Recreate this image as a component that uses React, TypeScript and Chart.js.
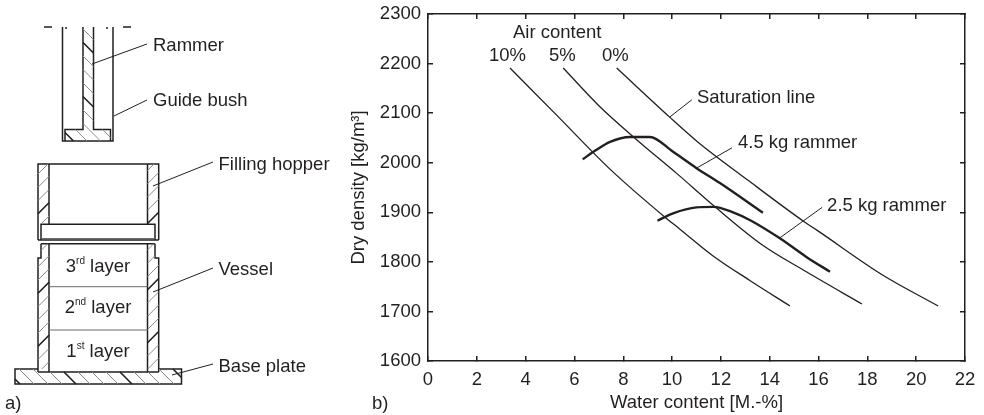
import React, { useEffect, useRef } from "react";
import { Chart, registerables } from "chart.js";

Chart.register(...registerables);

const FONT = '"Liberation Sans", Arial, sans-serif';
const INK = "#231f20";
const TEXT_SIZE = 18.5;

/* ---------- b) compaction chart values ---------- */
const airContent10X = [3.36, 5.27, 7.5, 9.71, 10.32, 11.68, 13.2, 14.83];
const airContent10Y = [2191, 2096, 1985, 1890, 1866, 1812, 1762, 1711];
const airContent5X = [5.54, 7.0, 8.56, 10.2, 11.76, 13.7, 15.5, 17.78];
const airContent5Y = [2191, 2115, 2046, 1978, 1911, 1834, 1780, 1715];
const airContent0X = [7.73, 9.9, 11.05, 13.1, 15.44, 15.93, 18.64, 20.9];
const airContent0Y = [2191, 2092, 2042, 1965, 1880, 1864, 1773, 1711];
const rammer45X = [6.34, 6.84, 7.46, 8.27, 9.09, 10.04, 11.0, 11.96, 13.72];
const rammer45Y = [2007, 2024, 2042, 2052, 2052, 2022, 1989, 1959, 1899];
const rammer25X = [9.4, 10.04, 11.0, 11.68, 12.5, 13.2, 14.4, 15.5, 16.47];
const rammer25Y = [1883, 1898, 1910, 1911, 1900, 1884, 1848, 1810, 1780];
const saturationLeaderX = [9.9, 10.81];
const saturationLeaderY = [2092, 2127];
const leader45X = [11.0, 12.45];
const leader45Y = [1989, 2030];
const leader25X = [14.4, 16.15];
const leader25Y = [1848, 1910];
const xTickMax = 22;
const yTickMin = 1600;
const yTickMax = 2300;

const chartLabels: [string, number, number][] = [
  ["Air content", 3.48, 2262],
  ["10%", 2.5, 2215],
  ["5%", 4.96, 2215],
  ["0%", 7.13, 2215],
  ["Saturation line", 11.02, 2130],
  ["4.5 kg rammer", 12.7, 2040],
  ["2.5 kg rammer", 16.35, 1913],
];

/* ---------- a) apparatus schematic, in its own 340 x 415 drawing units ---------- */
type P = [number, number];
const outlines: P[][] = [
  [[62.5, 27], [62.5, 141], [113, 141], [113, 27]],
  [[83, 27], [83, 129.5], [65, 129.5], [65, 141]],
  [[93.5, 27], [93.5, 129.5], [110.5, 129.5], [110.5, 141]],
  [[38, 240], [38, 164], [158.7, 164], [158.7, 240]],
  [[49, 164], [49, 224.3]],
  [[147.5, 164], [147.5, 224.3]],
  [[38, 240], [158.7, 240]],
  [[41, 240], [41, 224.3], [155, 224.3], [155, 240]],
  [[41, 243.7], [155, 243.7]],
  [[41, 243.7], [41, 258], [38, 258], [38, 372]],
  [[155, 243.7], [155, 258], [158.7, 258], [158.7, 372]],
  [[49, 243.7], [49, 372]],
  [[147.5, 243.7], [147.5, 372]],
  [[38, 369], [15, 369], [15, 384], [181.5, 384], [181.5, 369], [158.7, 369]],
  [[38, 372], [158.7, 372]],
];
const dashes: P[][] = [
  [[44, 27], [52, 27]],
  [[66, 27], [66, 29]],
  [[107, 27], [107, 29]],
  [[123, 27], [131, 27]],
];
const layerLines: P[][] = [
  [[49, 286.7], [147.5, 286.7]],
  [[49, 330], [147.5, 330]],
  [[41, 238.5], [155, 238.5]],
];
const leaders: P[][] = [
  [[92, 64], [147, 44]],
  [[114, 116], [147, 100]],
  [[153, 186], [213, 162]],
  [[153, 292], [213, 268]],
  [[172, 375], [213, 364]],
];
/* x0, y0, x1, y1, slope (+1 = "\", -1 = "/"), spacing, indices of black strokes */
const hatchAreas: [number, number, number, number, number, number, number[]][] = [
  [83, 27, 93.5, 129.5, 1, 13.5, [-3, 1]],
  [65, 129.5, 110.5, 141, 1, 13.5, [5]],
  [38, 164, 49, 224, -1, 13.25, [19]],
  [147.5, 164, 158.7, 224, -1, 13.25, [28]],
  [41, 243.7, 49, 258, -1, 13.25, []],
  [147.5, 243.7, 155, 258, -1, 13.25, []],
  [38, 258, 49, 369, -1, 13.25, [25, 29]],
  [147.5, 258, 158.7, 369, -1, 13.25, [33, 37]],
  [15, 372, 181.5, 384, 1, 14, [14, 18, 22, 26]],
  [15, 369, 38, 372, 1, 14, [26]],
  [158.7, 369, 181.5, 372, 1, 14, [14]],
];
const plainLabels: [string, number, number][] = [
  ["Rammer", 153, 46],
  ["Guide bush", 153, 101],
  ["Filling hopper", 218.5, 165],
  ["Vessel", 218.5, 270],
  ["Base plate", 218.5, 367],
  ["a)", 5, 404],
];
const layerLabels: [string, string, number][] = [
  ["3", "rd", 267],
  ["2", "nd", 308],
  ["1", "st", 352],
];
const layerCenterX = 98;

const join = (list: P[][]) => {
  const out: { x: number; y: number }[] = [];
  list.forEach((line) => {
    line.forEach(([x, y]) => out.push({ x, y }));
    out.push({ x: NaN, y: NaN });
  });
  return out;
};

const hatchSegments = (wantBlack: boolean) => {
  const res: P[][] = [];
  hatchAreas.forEach(([x0, y0, x1, y1, slope, step, black]) => {
    const start = slope > 0 ? y0 - x1 : y0 + x0;
    const end = slope > 0 ? y1 - x0 : y1 + x1;
    for (let k = Math.ceil(start / step); k * step <= end; k++) {
      const c = k * step;
      const pts: P[] = [];
      const add = (x: number, y: number) => {
        if (x >= x0 - 0.01 && x <= x1 + 0.01 && y >= y0 - 0.01 && y <= y1 + 0.01) pts.push([x, y]);
      };
      const yAt = (x: number) => (slope > 0 ? c + x : c - x);
      const xAt = (y: number) => (slope > 0 ? y - c : c - y);
      add(x0, yAt(x0));
      add(x1, yAt(x1));
      add(xAt(y0), y0);
      add(xAt(y1), y1);
      if (pts.length >= 2 && black.includes(k) === wantBlack) res.push([pts[0], pts[pts.length - 1]]);
    }
  });
  return res;
};

const toPoints = (xs: number[], ys: number[]) => xs.map((x, i) => ({ x, y: ys[i] }));

const series = (xs: number[], ys: number[], width: number, smooth = true) => ({
  data: toPoints(xs, ys),
  showLine: true,
  borderColor: INK,
  borderWidth: width,
  pointRadius: 0,
  cubicInterpolationMode: smooth ? "monotone" : "default",
  tension: 0,
});

const outlineSet = (list: P[][], color: string, width: number) => ({
  data: join(list),
  showLine: true,
  spanGaps: false,
  borderColor: color,
  borderWidth: width,
  pointRadius: 0,
  tension: 0,
  clip: false,
});

export default function App() {
  const leftRef = useRef<HTMLCanvasElement>(null);
  const rightRef = useRef<HTMLCanvasElement>(null);

  useEffect(() => {
    const left = new Chart(leftRef.current!, {
      type: "scatter",
      data: {
        datasets: [
          outlineSet(hatchSegments(false), "#8c8c8c", 1),
          outlineSet(hatchSegments(true), INK, 1.6),
          outlineSet(layerLines, "#6b6b6b", 1),
          outlineSet(outlines, INK, 1.5),
          outlineSet(dashes, INK, 1.5),
          outlineSet(leaders, INK, 1),
        ] as any,
      },
      options: {
        animation: false,
        responsive: false,
        devicePixelRatio: 1,
        layout: { padding: 0 },
        plugins: { legend: { display: false }, tooltip: { enabled: false } },
        scales: {
          x: { type: "linear", display: false, min: 0, max: 340 },
          y: { type: "linear", display: false, min: 0, max: 415, reverse: true },
        },
      },
      plugins: [
        {
          id: "schematicText",
          afterDraw(c: any) {
            const { ctx, scales } = c;
            ctx.save();
            ctx.fillStyle = INK;
            ctx.textBaseline = "middle";
            ctx.textAlign = "left";
            ctx.font = `${TEXT_SIZE}px ${FONT}`;
            plainLabels.forEach(([t, x, y]) =>
              ctx.fillText(t, scales.x.getPixelForValue(x), scales.y.getPixelForValue(y))
            );
            layerLabels.forEach(([n, sup, y]) => {
              ctx.font = `${TEXT_SIZE}px ${FONT}`;
              const w1 = ctx.measureText(n).width;
              const w3 = ctx.measureText(" layer").width;
              ctx.font = `10px ${FONT}`;
              const w2 = ctx.measureText(sup).width;
              let px = scales.x.getPixelForValue(layerCenterX) - (w1 + w2 + w3) / 2;
              const py = scales.y.getPixelForValue(y);
              ctx.font = `${TEXT_SIZE}px ${FONT}`;
              ctx.fillText(n, px, py);
              px += w1;
              ctx.font = `10px ${FONT}`;
              ctx.fillText(sup, px, py - 6);
              px += w2;
              ctx.font = `${TEXT_SIZE}px ${FONT}`;
              ctx.fillText(" layer", px, py);
            });
            ctx.restore();
          },
        },
      ],
    } as any);

    const hiddenTicks = { display: false };
    const innerGrid = { drawOnChartArea: false, tickLength: -5, color: INK, lineWidth: 1.5 };
    const edge = { display: true, color: INK, width: 1.5 };
    const noOverhang = (s: any) => {
      s.paddingLeft = 0;
      s.paddingRight = 0;
      s.paddingTop = 0;
      s.paddingBottom = 0;
    };

    const right = new Chart(rightRef.current!, {
      type: "scatter",
      data: {
        datasets: [
          series(airContent10X, airContent10Y, 1.3),
          series(airContent5X, airContent5Y, 1.3),
          series(airContent0X, airContent0Y, 1.3),
          series(rammer45X, rammer45Y, 2.4),
          series(rammer25X, rammer25Y, 2.4),
          series(saturationLeaderX, saturationLeaderY, 1, false),
          series(leader45X, leader45Y, 1, false),
          series(leader25X, leader25Y, 1, false),
        ] as any,
      },
      options: {
        animation: false,
        responsive: false,
        devicePixelRatio: 1,
        layout: { padding: { left: 0, right: 19, top: 14, bottom: 0 } },
        plugins: { legend: { display: false }, tooltip: { enabled: false } },
        scales: {
          x: {
            type: "linear",
            min: 0,
            max: xTickMax,
            afterFit: (s: any) => { s.height = 54; noOverhang(s); },
            grid: innerGrid,
            border: edge,
            ticks: {
              stepSize: 2,
              maxRotation: 0,
              padding: 13,
              color: INK,
              font: { family: FONT, size: TEXT_SIZE },
            },
            title: {
              display: true,
              text: "Water content [M.-%]",
              color: INK,
              font: { family: FONT, size: TEXT_SIZE },
              padding: { top: 0, bottom: 1 },
            },
          },
          y: {
            type: "linear",
            min: yTickMin,
            max: yTickMax,
            afterFit: (s: any) => { s.width = 88; noOverhang(s); },
            grid: innerGrid,
            border: edge,
            ticks: {
              stepSize: 100,
              padding: 12,
              color: INK,
              font: { family: FONT, size: TEXT_SIZE },
              callback: (v: any) => String(v),
            },
            title: {
              display: true,
              text: "Dry density [kg/m³]",
              color: INK,
              font: { family: FONT, size: TEXT_SIZE },
              padding: { top: 8, bottom: 0 },
            },
          },
          xTop: {
            type: "linear",
            position: "top",
            min: 0,
            max: xTickMax,
            afterFit: (s: any) => { s.height = 0; noOverhang(s); },
            grid: innerGrid,
            border: edge,
            ticks: { ...hiddenTicks, stepSize: 2 },
          },
          yRight: {
            type: "linear",
            position: "right",
            min: yTickMin,
            max: yTickMax,
            afterFit: (s: any) => { s.width = 0; noOverhang(s); },
            grid: innerGrid,
            border: edge,
            ticks: { ...hiddenTicks, stepSize: 100 },
          },
        },
      },
      plugins: [
        {
          id: "chartText",
          afterDraw(c: any) {
            const { ctx, scales } = c;
            ctx.save();
            ctx.fillStyle = INK;
            ctx.textBaseline = "middle";
            ctx.textAlign = "left";
            ctx.font = `${TEXT_SIZE}px ${FONT}`;
            chartLabels.forEach(([t, x, y]) =>
              ctx.fillText(t, scales.x.getPixelForValue(x), scales.y.getPixelForValue(y))
            );
            ctx.fillText("b)", 32, 404);
            ctx.restore();
          },
        },
      ],
    } as any);

    return () => {
      left.destroy();
      right.destroy();
    };
  }, []);

  return (
    <div style={{ position: "fixed", left: 0, top: 0, width: 984, height: 415, background: "#fff", overflow: "hidden" }}>
      <canvas ref={leftRef} width={340} height={415} style={{ position: "absolute", left: 0, top: 0, width: 340, height: 415 }} />
      <canvas ref={rightRef} width={644} height={415} style={{ position: "absolute", left: 340, top: 0, width: 644, height: 415 }} />
    </div>
  );
}
